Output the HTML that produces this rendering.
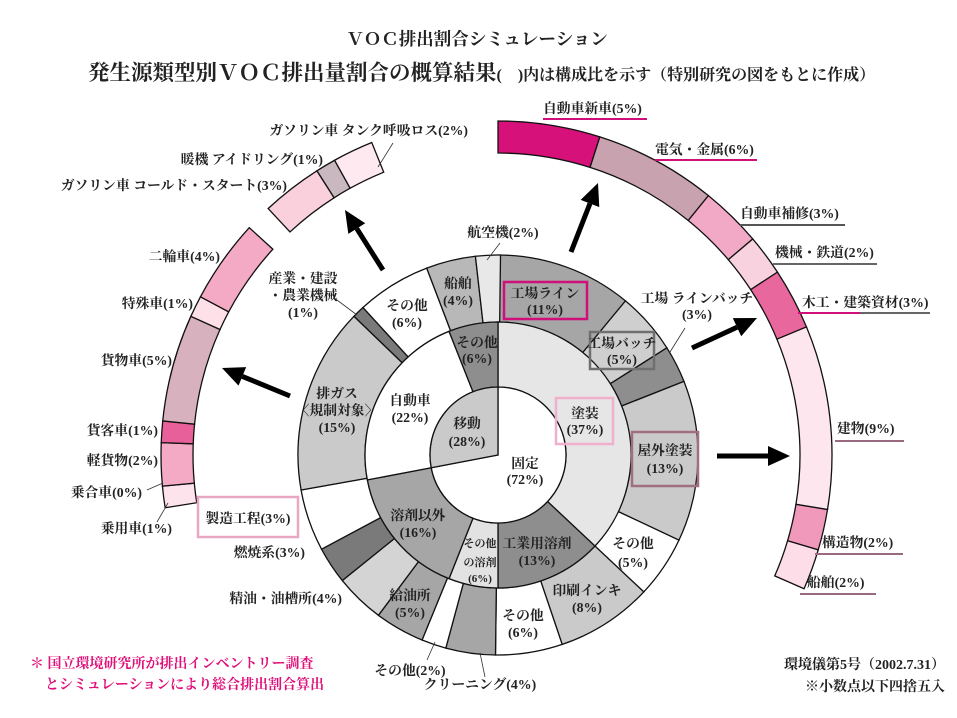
<!DOCTYPE html>
<html><head><meta charset="utf-8">
<style>
html,body{margin:0;padding:0;background:#fff;}
svg{display:block;}
text{font-family:"Liberation Serif","Noto Serif CJK JP","Noto Serif CJK SC",serif;font-weight:bold;fill:#222;}
.s{font-size:13.8px;}
.x{font-size:11px;}
</style></head>
<body>
<svg id="sv" width="957" height="718" viewBox="0 0 957 718" xmlns="http://www.w3.org/2000/svg">
<g id="shapes"></g>
<!-- boxes -->
<rect x="504" y="282" width="83" height="37" fill="none" stroke="#d0107a" stroke-width="2.5"/>
<rect x="590" y="332" width="64" height="37" fill="none" stroke="#707070" stroke-width="2.5"/>
<rect x="556" y="398" width="57" height="46" fill="none" stroke="#f0b0cc" stroke-width="2.5"/>
<rect x="632" y="432" width="66" height="54" fill="none" stroke="#a07080" stroke-width="2.5"/>
<rect x="198" y="497" width="100" height="40" fill="#fff" stroke="#e8a8c4" stroke-width="2.5"/>
<!-- leader lines -->
<g stroke="#333" stroke-width="0.8">
<line x1="393" y1="143" x2="378" y2="167"/>
<line x1="147" y1="490" x2="163" y2="483"/>
<line x1="157" y1="522" x2="168" y2="503"/>
<line x1="337" y1="300" x2="357" y2="315"/>
<line x1="500" y1="243" x2="487" y2="260"/>
<line x1="685" y1="328" x2="670" y2="352"/>
<line x1="435" y1="642" x2="427" y2="660"/>
<line x1="480" y1="653" x2="485" y2="677"/>
</g>
<!-- underlines -->
<g stroke-width="2">
<line x1="543" y1="119" x2="647" y2="119" stroke="#d0107a"/>
<line x1="655" y1="160" x2="757" y2="160" stroke="#d0107a"/>
<line x1="740" y1="225" x2="845" y2="225" stroke="#555"/>
<line x1="773" y1="264" x2="877" y2="264" stroke="#666"/>
<line x1="798" y1="313" x2="860" y2="313" stroke="#d0107a"/>
<line x1="860" y1="313" x2="930" y2="313" stroke="#666"/>
<line x1="835" y1="441" x2="904" y2="441" stroke="#9a6a80"/>
<line x1="815" y1="554" x2="903" y2="554" stroke="#9a6a80"/>
<line x1="800" y1="594" x2="876" y2="594" stroke="#9a6a80"/>
</g>
<!-- titles -->
<text x="477" y="45" font-size="17.5" text-anchor="middle">ＶＯＣ排出割合シミュレーション</text>
<text x="88" y="80" font-size="21.5">発生源類型別ＶＯＣ排出量割合の概算結果<tspan font-size="16">(　)内は構成比を示す（特別研究の図をもとに作成）</tspan></text>
<!-- right labels -->
<g class="s">
<text x="543" y="113">自動車新車(5%)</text>
<text x="655" y="154">電気・金属(6%)</text>
<text x="740" y="218">自動車補修(3%)</text>
<text x="775" y="257">機械・鉄道(2%)</text>
<text x="802" y="307">木工・建築資材(3%)</text>
<text x="837" y="433">建物(9%)</text>
<text x="822" y="547">構造物(2%)</text>
<text x="807" y="587">船舶(2%)</text>
</g>
<!-- left labels -->
<g class="s" text-anchor="end">
<text x="468" y="135">ガソリン車 タンク呼吸ロス(2%)</text>
<text x="323" y="164">暖機 アイドリング(1%)</text>
<text x="287" y="190">ガソリン車 コールド・スタート(3%)</text>
<text x="220" y="261">二輪車(4%)</text>
<text x="193" y="308">特殊車(1%)</text>
<text x="172" y="365">貨物車(5%)</text>
<text x="158" y="435">貨客車(1%)</text>
<text x="158" y="465">軽貨物(2%)</text>
<text x="142" y="497">乗合車(0%)</text>
<text x="172" y="533">乗用車(1%)</text>
<text x="342" y="603">精油・油槽所(4%)</text>
<text x="305" y="557">燃焼系(3%)</text>
</g>
<text class="s" x="248" y="523" text-anchor="middle">製造工程(3%)</text>
<g class="s" text-anchor="middle">
<text x="303" y="283">産業・建設</text>
<text x="303" y="300">・農業機械</text>
<text x="303" y="317">(1%)</text>
<text x="503" y="237">航空機(2%)</text>
<text x="458" y="288">船舶</text><text x="458" y="305">(4%)</text>
<text x="407" y="310">その他</text><text x="407" y="327">(6%)</text>
<text x="477" y="347">その他</text><text x="477" y="363">(6%)</text>
<text x="545" y="298">工場ライン</text><text x="545" y="314">(11%)</text>
<text x="697" y="303">工場 ラインバッチ</text><text x="697" y="319">(3%)</text>
<text x="622" y="348">工場バッチ</text><text x="622" y="364">(5%)</text>
<text x="585" y="418">塗装</text><text x="585" y="434">(37%)</text>
<text x="665" y="455">屋外塗装</text><text x="665" y="473">(13%)</text>
<text x="525" y="468">固定</text><text x="525" y="484">(72%)</text>
<text x="467" y="428">移動</text><text x="467" y="446">(28%)</text>
<text x="410" y="405">自動車</text><text x="410" y="422">(22%)</text>
<text x="337" y="398">排ガス</text><text x="337" y="415">〈規制対象〉</text><text x="337" y="432">(15%)</text>
<text x="418" y="520">溶剤以外</text><text x="418" y="537">(16%)</text>
<text x="537" y="548">工業用溶剤</text><text x="537" y="565">(13%)</text>
<text x="633" y="548">その他</text><text x="633" y="567">(5%)</text>
<text x="587" y="595">印刷インキ</text><text x="587" y="612">(8%)</text>
<text x="523" y="620">その他</text><text x="523" y="637">(6%)</text>
<text x="410" y="600">給油所</text><text x="410" y="617">(5%)</text>
<text x="410" y="675">その他(2%)</text>
<text x="480" y="689">クリーニング(4%)</text>
</g>
<g class="x" text-anchor="middle">
<text x="480" y="547">その他</text><text x="480" y="566">の溶剤</text><text x="480" y="582">(6%)</text>
</g>
<!-- bottom -->
<text x="30" y="668" font-size="14" style="fill:#e0107a">＊ 国立環境研究所が排出インベントリー調査</text>
<text x="45" y="689" font-size="14" style="fill:#e0107a">とシミュレーションにより総合排出割合算出</text>
<text x="945" y="669" font-size="14" text-anchor="end">環境儀第5号（2002.7.31）</text>
<text x="945" y="691" font-size="14" text-anchor="end">※小数点以下四捨五入</text>
</svg>
<script>
var cx=498,cy=455,g=document.getElementById('shapes'),NS='http://www.w3.org/2000/svg';
function P(r,a){a=a*Math.PI/180;return [cx+r*Math.sin(a),cy-r*Math.cos(a)];}
function sec(r0,r1,a0,a1,f){var p=document.createElementNS(NS,'path');var L=(a1-a0)>180?1:0;
var A=P(r1,a0),B=P(r1,a1),C=P(r0,a1),D=P(r0,a0),d;
if(r0>0)d='M'+A+'A'+r1+','+r1+' 0 '+L+' 1 '+B+'L'+C+'A'+r0+','+r0+' 0 '+L+' 0 '+D+'Z';
else d='M'+cx+','+cy+'L'+A+'A'+r1+','+r1+' 0 '+L+' 1 '+B+'Z';
p.setAttribute('d',d);p.setAttribute('fill',f);p.setAttribute('stroke','#111');p.setAttribute('stroke-width','1.3');g.appendChild(p);}
function ring(r0,r1,start,unit,list){var a=start;list.forEach(function(s){sec(r0,r1,a,a+s[0]*unit,s[1]);a+=s[0]*unit;});}
ring(133,200,0,3.6,[[11,'#a6a6a6'],[5,'#cfcfcf'],[3,'#8e8e8e'],[13,'#cacaca'],[5,'#fff'],[7.8,'#cacaca'],[5.4,'#fff'],[4,'#a6a6a6'],[2,'#fff'],
[4,'#a6a6a6'],[4,'#d4d4d4'],[3,'#7a7a7a'],[5,'#fff'],[15,'#cacaca'],[1,'#7a7a7a'],[6,'#fff'],[4,'#b8b8b8'],[2,'#e8e8e8']]);
ring(68,133,0,3.6,[[37,'#e6e6e6'],[13,'#8e8e8e'],[6,'#e2e2e2'],[16,'#a6a6a6'],[22,'#fff'],[6,'#8e8e8e']]);
ring(0,68,0,3.6,[[72,'#fff'],[28,'#cacaca']]);
ring(302,334,0,3.55,[[5,'#d6127a'],[6,'#c9a2b0'],[3,'#f2a9c5'],[2,'#f9d2df'],[3,'#e8689e'],[9,'#fde6ee'],[2,'#f099ba'],[2,'#fcdde8']]);
ring(305,337,261,3.7,[[1,'#fde4ec'],[2,'#f4a9c4'],[1,'#e8609a'],[5,'#d8b1bf'],[1,'#fde0e8'],[3.9,'#f4a9c4']]);
ring(305,337,317,3.5,[[3,'#f9d0dc'],[1,'#c9b8c0'],[2,'#fde9ef']]);
function arr(x1,y1,x2,y2){var dx=x2-x1,dy=y2-y1,l=Math.hypot(dx,dy),ux=dx/l,uy=dy/l,h=22,w=10;
var bx=x2-ux*h,by=y2-uy*h;var ln=document.createElementNS(NS,'line');
ln.setAttribute('x1',x1);ln.setAttribute('y1',y1);ln.setAttribute('x2',bx);ln.setAttribute('y2',by);ln.setAttribute('stroke','#000');ln.setAttribute('stroke-width','5');g.appendChild(ln);
var pg=document.createElementNS(NS,'polygon');pg.setAttribute('points',[x2,y2,bx-uy*w,by+ux*w,bx+uy*w,by-ux*w].join(' '));pg.setAttribute('fill','#000');g.appendChild(pg);}
arr(383,270,345,210);arr(290,396,222,368);arr(571,252,598,183);arr(692,348,757,318);arr(717,456,790,456);
</script>
</body></html>
